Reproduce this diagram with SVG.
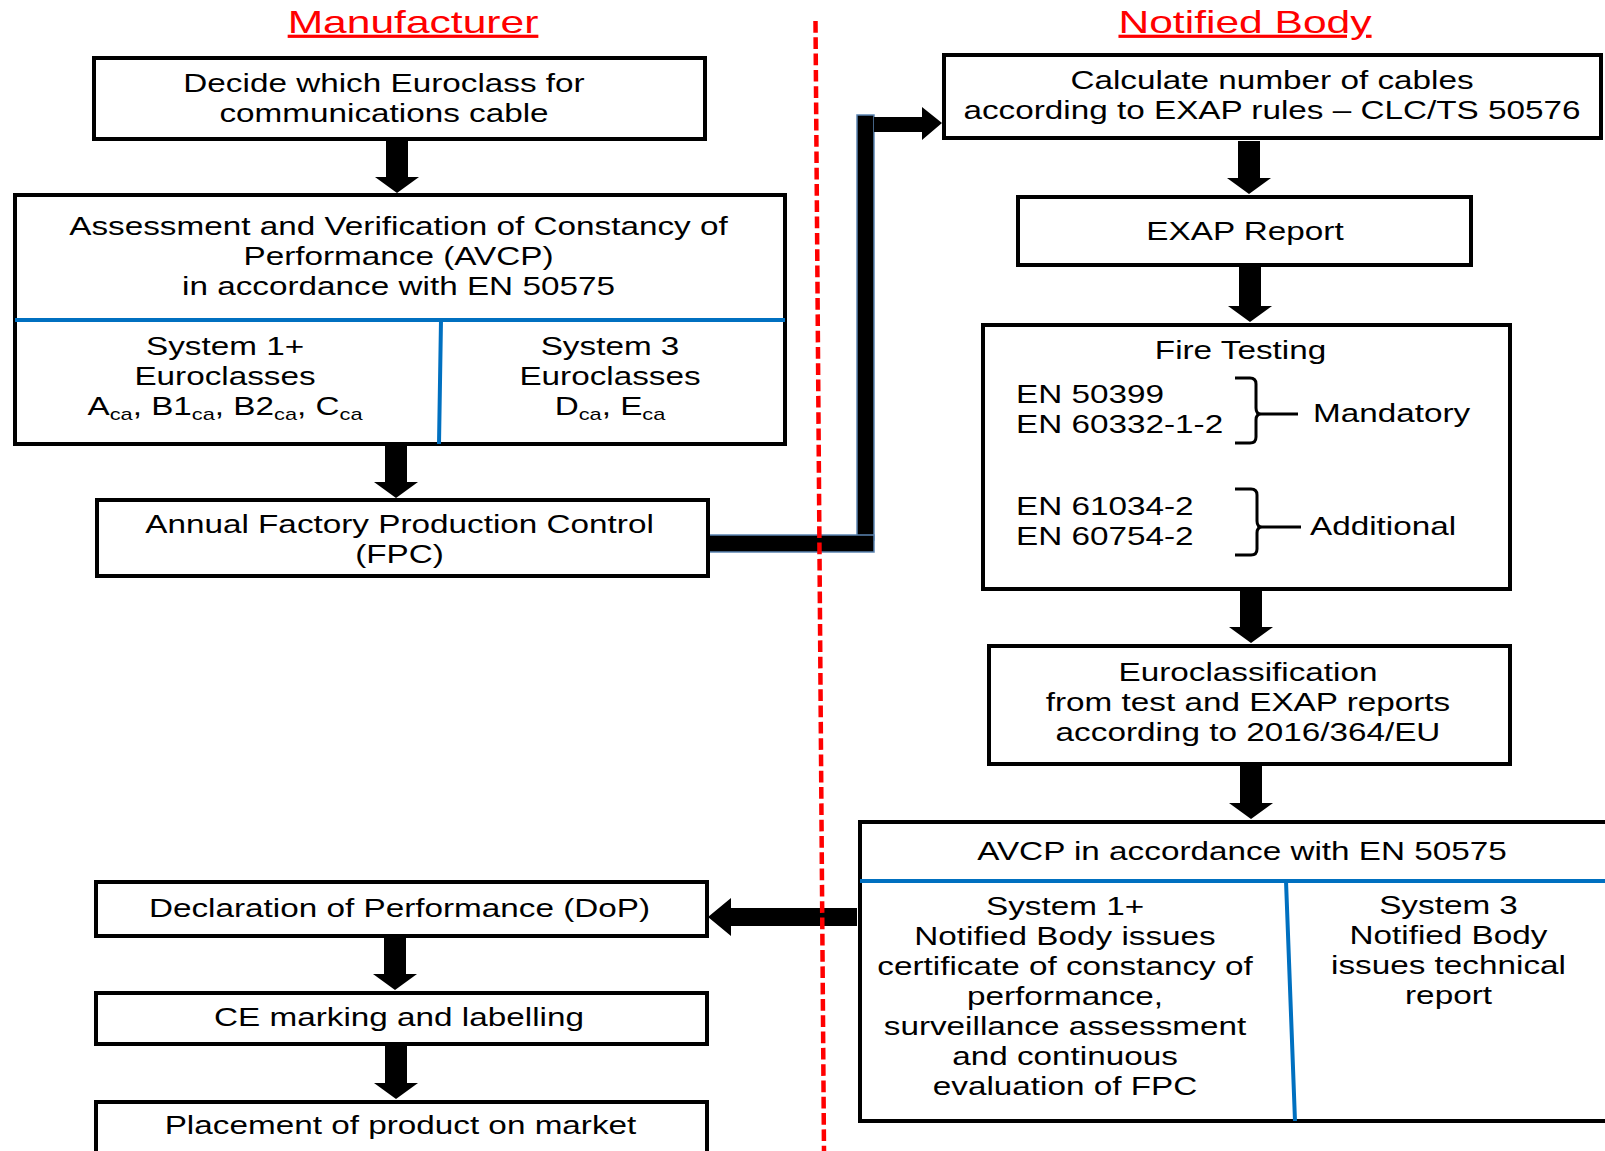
<svg xmlns="http://www.w3.org/2000/svg" width="1605" height="1151" viewBox="0 0 1605 1151">
  <style>
    .t{font-family:"Liberation Sans",Arial,Helvetica,sans-serif;font-size:26px;fill:#000}
    .m{text-anchor:middle}
    .sub{font-size:17px}
    .title{font-family:"Liberation Sans",Arial,Helvetica,sans-serif;font-size:32px;fill:#ff0000;text-anchor:middle;text-decoration:underline}
    .box{fill:#fff;stroke:#000;stroke-width:4}
    .split{fill:none;stroke:#0070c0;stroke-width:4}
    .arrow{fill:#000}
    .bar{fill:#000;stroke:#5b84b1;stroke-width:1.5}
    .brace{fill:none;stroke:#000;stroke-width:3}
    .divider{fill:none;stroke:#ff0000;stroke-width:4.5;stroke-dasharray:11.7 4.6}
  </style>

  <rect width="1605" height="1151" fill="#fff"/>

  <!-- column headings -->
  <text class="title" transform="matrix(1.33 0 0 1 413 0)" x="0" y="33">Manufacturer</text>
  <text class="title" transform="matrix(1.33 0 0 1 1245 0)" x="0" y="33">Notified Body</text>

  <!-- connectors -->
  <g id="connectors">
    <polygon class="arrow" points="386,141 408,141 408,177 419,177 397,193 375,177 386,177"/>
    <polygon class="arrow" points="385,446 407,446 407,482 418,482 396,498 374,482 385,482"/>
    <rect class="bar" x="857" y="115" width="17" height="425"/>
    <rect class="bar" x="706" y="535" width="168" height="17"/>
    <polygon class="arrow" points="874,117 922,117 922,107 942,123 922,140 922,132 874,132"/>
    <polygon class="arrow" points="1238,141 1260,141 1260,178 1271,178 1249,194 1227,178 1238,178"/>
    <polygon class="arrow" points="1239,267 1261,267 1261,306 1272,306 1250,322 1228,306 1239,306"/>
    <polygon class="arrow" points="1240,591 1262,591 1262,627 1273,627 1251,643 1229,627 1240,627"/>
    <polygon class="arrow" points="1240,766 1262,766 1262,803 1273,803 1251,819 1229,803 1240,803"/>
    <polygon class="arrow" points="857,908 731,908 731,898 708,917 731,936 731,926 857,926"/>
    <polygon class="arrow" points="384,938 406,938 406,974 417,974 395,990 373,974 384,974"/>
    <polygon class="arrow" points="385,1046 407,1046 407,1083 418,1083 396,1099 374,1083 385,1083"/>
  </g>

  <!-- manufacturer column -->
  <g id="decide">
    <rect class="box" x="94" y="58" width="611" height="81"/>
    <text class="t m" transform="matrix(1.28 0 0 1 384 0)"><tspan x="0" y="92">Decide which Euroclass for</tspan><tspan x="0" y="122">communications cable</tspan></text>
  </g>

  <g id="avcp-manufacturer">
    <rect class="box" x="15" y="195" width="770" height="249"/>
    <path class="split" d="M15,320 H785 M441,320 L439,444"/>
    <text class="t m" transform="matrix(1.28 0 0 1 398.5 0)"><tspan x="0" y="235">Assessment and Verification of Constancy of</tspan><tspan x="0" y="265">Performance (AVCP)</tspan><tspan x="0" y="295">in accordance with EN 50575</tspan></text>
    <text class="t m" transform="matrix(1.28 0 0 1 225 0)"><tspan x="0" y="355">System 1+</tspan><tspan x="0" y="385">Euroclasses</tspan><tspan x="0" y="415">A<tspan class="sub" dy="5">ca</tspan><tspan dy="-5">, B1</tspan><tspan class="sub" dy="5">ca</tspan><tspan dy="-5">, B2</tspan><tspan class="sub" dy="5">ca</tspan><tspan dy="-5">, C</tspan><tspan class="sub" dy="5">ca</tspan></tspan></text>
    <text class="t m" transform="matrix(1.28 0 0 1 610 0)"><tspan x="0" y="355">System 3</tspan><tspan x="0" y="385">Euroclasses</tspan><tspan x="0" y="415">D<tspan class="sub" dy="5">ca</tspan><tspan dy="-5">, E</tspan><tspan class="sub" dy="5">ca</tspan></tspan></text>
  </g>

  <g id="fpc">
    <rect class="box" x="97" y="500" width="611" height="76"/>
    <text class="t m" transform="matrix(1.28 0 0 1 399.5 0)"><tspan x="0" y="533">Annual Factory Production Control</tspan><tspan x="0" y="563">(FPC)</tspan></text>
  </g>

  <g id="dop">
    <rect class="box" x="96" y="882" width="611" height="54"/>
    <text class="t m" transform="matrix(1.28 0 0 1 399.5 0)" x="0" y="917">Declaration of Performance (DoP)</text>
  </g>

  <g id="ce-marking">
    <rect class="box" x="96" y="993" width="611" height="51"/>
    <text class="t m" transform="matrix(1.28 0 0 1 399 0)" x="0" y="1026">CE marking and labelling</text>
  </g>

  <g id="placement">
    <rect class="box" x="96" y="1102" width="611" height="100"/>
    <text class="t m" transform="matrix(1.28 0 0 1 400.5 0)" x="0" y="1134">Placement of product on market</text>
  </g>

  <!-- notified body column -->
  <g id="calculate">
    <rect class="box" x="944" y="55" width="657" height="83"/>
    <text class="t m" transform="matrix(1.28 0 0 1 1272 0)"><tspan x="0" y="89">Calculate number of cables</tspan><tspan x="0" y="119">according to EXAP rules – CLC/TS 50576</tspan></text>
  </g>

  <g id="exap-report">
    <rect class="box" x="1018" y="197" width="453" height="68"/>
    <text class="t m" transform="matrix(1.28 0 0 1 1245 0)" x="0" y="240">EXAP Report</text>
  </g>

  <g id="fire-testing">
    <rect class="box" x="983" y="325" width="527" height="264"/>
    <text class="t m" transform="matrix(1.28 0 0 1 1240.5 0)" x="0" y="359">Fire Testing</text>
    <text class="t" transform="matrix(1.28 0 0 1 1016 0)"><tspan x="0" y="403">EN 50399</tspan><tspan x="0" y="433">EN 60332-1-2</tspan><tspan x="0" y="515">EN 61034-2</tspan><tspan x="0" y="545">EN 60754-2</tspan></text>
    <path class="brace" d="M1235,378 H1250 Q1256,378 1256,384 V408 Q1256,414 1261,414 Q1256,414 1256,420 V437 Q1256,443 1250,443 H1235 M1258,414 H1298"/>
    <path class="brace" d="M1235,489 H1251 Q1257,489 1257,495 V521 Q1257,527 1262,527 Q1257,527 1257,533 V549 Q1257,555 1251,555 H1235 M1259,527 H1301"/>
    <text class="t" transform="matrix(1.28 0 0 1 1313 0)" x="0" y="422">Mandatory</text>
    <text class="t" transform="matrix(1.28 0 0 1 1310 0)" x="0" y="535">Additional</text>
  </g>

  <g id="euroclassification">
    <rect class="box" x="989" y="646" width="521" height="118"/>
    <text class="t m" transform="matrix(1.28 0 0 1 1248 0)"><tspan x="0" y="681">Euroclassification</tspan><tspan x="0" y="711">from test and EXAP reports</tspan><tspan x="0" y="741">according to 2016/364/EU</tspan></text>
  </g>

  <g id="avcp-notified-body">
    <rect class="box" x="860" y="822" width="800" height="299"/>
    <path class="split" d="M860,881 H1605 M1286,881 L1295,1121"/>
    <text class="t m" transform="matrix(1.28 0 0 1 1242 0)" x="0" y="860">AVCP in accordance with EN 50575</text>
    <text class="t m" transform="matrix(1.28 0 0 1 1065 0)"><tspan x="0" y="915">System 1+</tspan><tspan x="0" y="945">Notified Body issues</tspan><tspan x="0" y="975">certificate of constancy of</tspan><tspan x="0" y="1005">performance,</tspan><tspan x="0" y="1035">surveillance assessment</tspan><tspan x="0" y="1065">and continuous</tspan><tspan x="0" y="1095">evaluation of FPC</tspan></text>
    <text class="t m" transform="matrix(1.28 0 0 1 1448.5 0)"><tspan x="0" y="914">System 3</tspan><tspan x="0" y="944">Notified Body</tspan><tspan x="0" y="974">issues technical</tspan><tspan x="0" y="1004">report</tspan></text>
  </g>

  <!-- boundary between manufacturer and notified body -->
  <line class="divider" x1="815.5" y1="21" x2="824" y2="1151"/>
</svg>
